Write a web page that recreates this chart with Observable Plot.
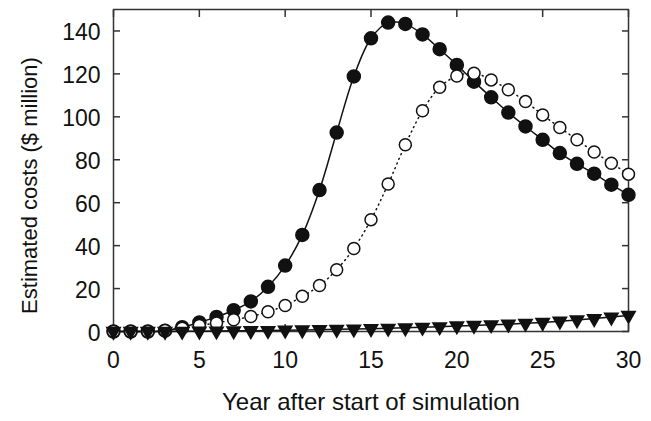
<!DOCTYPE html>
<html>
<head>
<meta charset="utf-8">
<script src="https://cdn.jsdelivr.net/npm/d3@7"></script>
<script src="https://cdn.jsdelivr.net/npm/@observablehq/plot@0.6"></script>
<style>
  html, body { margin: 0; padding: 0; background: #fff; }
  svg { font-family: "Liberation Sans", Arial, sans-serif; }
</style>
</head>
<body>
<div id="chart"></div>
<script>
const years = d3.range(0, 31);
const filledCosts = [0, 0, 0, 0.4, 2, 4.2, 6.8, 9.9, 14, 20.8, 30.7, 45, 65.9, 92.7, 118.8, 136.6, 143.9, 143.3, 138.4, 131.5, 124.2, 116.4, 109.1, 102, 95.5, 89.3, 83.1, 78.1, 73.5, 68.4, 63.7];
const openCosts = [0, 0, 0, 0.5, 1.5, 2.8, 4, 5.5, 7, 9.2, 12.1, 16.4, 21.4, 28.8, 38.7, 52.1, 68.7, 87, 102.8, 113.8, 119, 120.3, 117.2, 112.6, 107.1, 100.9, 95, 89.3, 83.6, 78.4, 73.3];
const triangleCosts = [0, 0, 0, 0.05, 0.1, 0.15, 0.2, 0.3, 0.35, 0.45, 0.6, 0.7, 0.85, 1.0, 1.15, 1.3, 1.5, 1.7, 1.95, 2.2, 2.6, 2.8, 3.1, 3.4, 3.8, 4.2, 4.8, 5.4, 6.0, 6.7, 7.5];
const xTicks = [0, 5, 10, 15, 20, 25, 30];
const yTicks = [0, 20, 40, 60, 80, 100, 120, 140];
const xLabel = "Year after start of simulation";
const yLabel = "Estimated costs ($ million)";

const filled = years.map((y, i) => ({year: y, cost: filledCosts[i]}));
const open = years.map((y, i) => ({year: y, cost: openCosts[i]}));
const tri = years.map((y, i) => ({year: y, cost: triangleCosts[i]}));

const ink = "#111";
const frameInk = "#333";

const chart = Plot.plot({
  width: 651,
  height: 421,
  marginLeft: 113,
  marginRight: 23,
  marginTop: 9,
  marginBottom: 90,
  style: {fontFamily: "Liberation Sans, Arial, sans-serif", fontSize: "22px", color: ink, background: "#fff", overflow: "visible"},
  x: {domain: [0, 30]},
  y: {domain: [0, 150]},
  marks: [
    Plot.frame({stroke: frameInk, strokeWidth: 1.5}),
    Plot.axisX(xTicks, {anchor: "bottom", tickSize: 0, tickPadding: 20, fontSize: 23, label: null, fill: ink}),
    Plot.axisX(xTicks, {anchor: "bottom", tickSize: -7, text: null, label: null, stroke: frameInk, strokeWidth: 1.5}),
    Plot.axisX(xTicks, {anchor: "top", tickSize: -7, text: null, label: null, stroke: frameInk, strokeWidth: 1.5}),
    Plot.axisY(yTicks, {anchor: "left", tickSize: 0, tickPadding: 13, dy: 2, fontSize: 23, label: null, fill: ink}),
    Plot.axisY(yTicks, {anchor: "left", tickSize: -7, text: null, label: null, stroke: frameInk, strokeWidth: 1.5}),
    Plot.axisY(yTicks, {anchor: "right", tickSize: -7, text: null, label: null, stroke: frameInk, strokeWidth: 1.5}),
    Plot.text([xLabel], {text: d => d, frameAnchor: "bottom", lineAnchor: "middle", textAnchor: "middle", dy: 71, fontSize: 24, fill: ink}),
    Plot.text([yLabel], {text: d => d, frameAnchor: "left", lineAnchor: "middle", textAnchor: "middle", rotate: -90, dx: -84, dy: 15, fontSize: 22, fill: ink}),
    Plot.line(filled, {x: "year", y: "cost", curve: "catmull-rom", stroke: ink, strokeWidth: 1.5}),
    Plot.line(open, {x: "year", y: "cost", curve: "catmull-rom", stroke: ink, strokeWidth: 1.5, strokeDasharray: "1,4", strokeLinecap: "round"}),
    Plot.line(tri, {x: "year", y: "cost", stroke: ink, strokeWidth: 1.5}),
    Plot.dot(filled, {x: "year", y: "cost", r: 6.5, fill: ink, stroke: ink}),
    Plot.dot(open, {x: "year", y: "cost", r: 6, fill: "#fff", stroke: ink, strokeWidth: 1.5}),
    Plot.dot(tri, {x: "year", y: "cost", symbol: "triangle", rotate: 180, r: 5, fill: ink, stroke: ink})
  ]
});
document.getElementById("chart").appendChild(chart);
</script>
</body>
</html>
